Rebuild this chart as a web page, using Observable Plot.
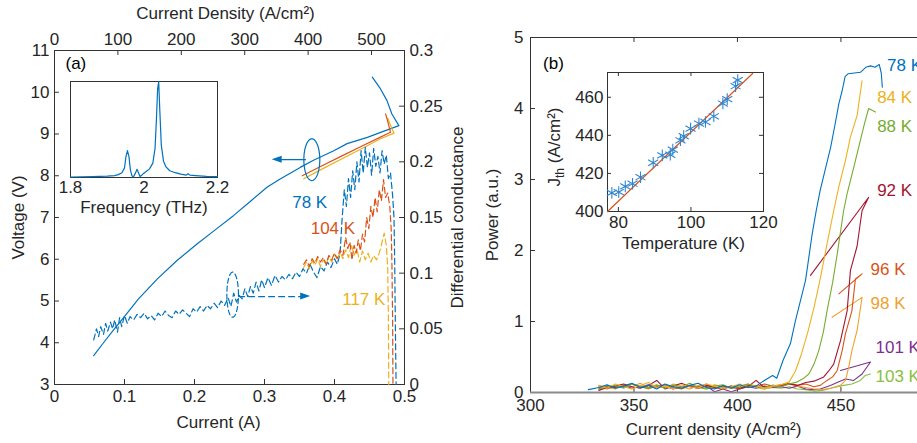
<!DOCTYPE html>
<html><head><meta charset="utf-8">
<script src="https://cdn.jsdelivr.net/npm/d3@7"></script>
<script src="https://cdn.jsdelivr.net/npm/@observablehq/plot@0.6"></script>
<style>
html,body{margin:0;padding:0;background:#fff;overflow:hidden;}
#root{position:relative;width:917px;height:443px;overflow:hidden;background:#fff;}
.panel{position:absolute;}
</style></head><body><div id="root">
<div class="panel" id="pa" style="left:0;top:0"></div>
<div class="panel" id="pb" style="left:470px;top:0"></div>
<div class="panel" id="ia" style="left:40px;top:60px"></div>
<div class="panel" id="ib" style="left:535px;top:60px"></div>
</div>
<script>
// ================= Panel (a) data =================
const aCurrentTicks = [0, 0.1, 0.2, 0.3, 0.4, 0.5];
const aVoltageTicks = [3, 4, 5, 6, 7, 8, 9, 10, 11];
const aCondTicks = [0, 0.05, 0.1, 0.15, 0.2, 0.25, 0.3];
const aDensityTicks = [0, 100, 200, 300, 400, 500];
const aDensityAtHalfAmp = 552; // A/cm² at 0.5 A (top axis)

// I-V curves (solid)
const iv78I = [0.056,0.07,0.085,0.099,0.12,0.147,0.175,0.204,0.23,0.256,0.28,0.304,0.323,0.351,0.37,0.399,0.418,0.447,0.466,0.492,0.482,0.475,0.465,0.454];
const iv78V = [3.69,4.0,4.32,4.61,5.05,5.53,5.97,6.37,6.71,7.05,7.39,7.73,7.93,8.2,8.37,8.6,8.77,8.92,9.04,9.2,9.48,9.8,10.1,10.36];
const iv104I = [0.354,0.38,0.41,0.44,0.465,0.48,0.476,0.473];
const iv104V = [8.0,8.22,8.47,8.72,8.92,9.04,9.3,9.48];
const iv117I = [0.356,0.38,0.41,0.44,0.465,0.485,0.479,0.476];
const iv117V = [7.93,8.14,8.4,8.66,8.88,9.02,9.25,9.38];

// differential conductance (dashed, right axis)
const dc78I = [0.056,0.060,0.063,0.066,0.070,0.073,0.076,0.080,0.083,0.086,0.090,0.093,0.096,0.100,0.104,0.108,0.113,0.118,0.123,0.128,0.133,0.138,0.143,0.148,0.153,0.158,0.163,0.168,0.173,0.178,0.183,0.188,0.193,0.198,0.203,0.208,0.213,0.218,0.223,0.228,0.233,0.238,0.243,0.248,0.252,0.256,0.260,0.264,0.268,0.272,0.276,0.280,0.284,0.288,0.292,0.296,0.300,0.305,0.310,0.315,0.320,0.325,0.330,0.335,0.340,0.345,0.350,0.355,0.360,0.365,0.370,0.375,0.380,0.385,0.390,0.395,0.400,0.404,0.408,0.411,0.414,0.417,0.420,0.423,0.426,0.429,0.432,0.435,0.438,0.441,0.444,0.447,0.450,0.453,0.456,0.459,0.462,0.465,0.468,0.471,0.474,0.477,0.480,0.483,0.485,0.486,0.487,0.488];
const dc78G = [0.040,0.050,0.043,0.052,0.045,0.055,0.048,0.056,0.050,0.058,0.047,0.060,0.052,0.062,0.055,0.061,0.058,0.063,0.060,0.064,0.059,0.062,0.058,0.064,0.061,0.066,0.062,0.060,0.066,0.063,0.067,0.064,0.061,0.068,0.065,0.070,0.066,0.071,0.068,0.073,0.069,0.075,0.071,0.078,0.070,0.082,0.074,0.080,0.077,0.086,0.079,0.088,0.082,0.092,0.084,0.094,0.087,0.096,0.089,0.098,0.092,0.097,0.094,0.099,0.095,0.101,0.097,0.104,0.100,0.108,0.101,0.096,0.106,0.102,0.110,0.105,0.113,0.108,0.118,0.150,0.175,0.160,0.185,0.168,0.192,0.175,0.200,0.182,0.210,0.190,0.213,0.195,0.208,0.188,0.212,0.196,0.205,0.190,0.210,0.198,0.206,0.185,0.190,0.170,0.150,0.110,0.050,0.000];
const dc104I = [0.356,0.360,0.364,0.368,0.372,0.376,0.380,0.384,0.388,0.392,0.396,0.400,0.404,0.408,0.412,0.416,0.419,0.422,0.425,0.428,0.431,0.434,0.437,0.440,0.443,0.446,0.449,0.452,0.455,0.458,0.461,0.464,0.467,0.470,0.473,0.476,0.479,0.481,0.482,0.483,0.4835];
const dc104G = [0.108,0.112,0.106,0.113,0.109,0.115,0.110,0.114,0.108,0.116,0.112,0.118,0.113,0.121,0.116,0.132,0.122,0.128,0.112,0.125,0.118,0.130,0.120,0.135,0.128,0.150,0.140,0.160,0.150,0.168,0.155,0.175,0.165,0.184,0.168,0.172,0.160,0.140,0.110,0.060,0.000];
const dc117I = [0.356,0.360,0.364,0.368,0.372,0.376,0.380,0.384,0.388,0.392,0.396,0.400,0.404,0.408,0.412,0.416,0.420,0.424,0.428,0.432,0.436,0.440,0.444,0.448,0.452,0.456,0.460,0.464,0.468,0.471,0.474,0.476,0.477,0.4775];
const dc117G = [0.105,0.110,0.104,0.111,0.107,0.113,0.106,0.112,0.108,0.115,0.110,0.117,0.112,0.119,0.113,0.121,0.114,0.126,0.116,0.122,0.110,0.120,0.112,0.118,0.110,0.116,0.112,0.118,0.128,0.136,0.125,0.105,0.060,0.000];

// inset (a): spectrum
const specF = [1.80,1.83,1.86,1.88,1.90,1.92,1.93,1.94,1.947,1.951,1.955,1.959,1.963,1.967,1.971,1.976,1.981,1.985,1.989,1.993,1.998,2.005,2.015,2.024,2.030,2.034,2.037,2.040,2.043,2.047,2.053,2.060,2.070,2.085,2.10,2.115,2.12,2.125,2.14,2.17,2.20];
const specA = [0.005,0.008,0.010,0.012,0.014,0.020,0.030,0.050,0.10,0.22,0.28,0.22,0.08,0.02,0.005,0.04,0.085,0.05,0.01,0.02,0.04,0.06,0.09,0.15,0.30,0.62,0.92,1.00,0.70,0.34,0.17,0.11,0.07,0.05,0.035,0.025,0.04,0.025,0.02,0.012,0.01];

// ================= Panel (b) data =================
const bDensityTicks = [300, 350, 400, 450];
const bPowerTicks = [0, 1, 2, 3, 4, 5];
const jGrid = [333,337,341,345,349,353,357,361,365,369,373,377,381,385,389,393,397,401,405,409,413,417];

const p78Base = [0.07,0.11,0.06,0.09,0.13,0.07,0.10,0.05,0.12,0.08,0.06,0.10,0.13,0.07,0.05,0.10,0.06,0.11,0.07,0.09,0.17,0.24];
const p78RiseJ = [419,422,425.6,428,432.9,436.1,438,440,442.5,445,447,449,450.6,452,453.5,456.5,459.4,462,464.3,466.5,468.5,469.5,470];
const p78RiseP = [0.2,0.45,0.69,1.01,1.58,2.23,2.55,2.85,3.15,3.45,3.75,4.07,4.25,4.45,4.49,4.50,4.51,4.58,4.60,4.58,4.62,4.5,4.3];

const p84Base = [0.09,0.06,0.12,0.08,0.05,0.10,0.14,0.07,0.09,0.05,0.11,0.08,0.06,0.12,0.09,0.05,0.08,0.12,0.07,0.10,0.06,0.09];
const p84RiseJ = [421,425,428,431,434,437,440,443,446.5,449,452.2,454.6,457.8,460.2];
const p84RiseP = [0.11,0.15,0.3,0.55,0.85,1.2,1.6,2.05,2.56,2.9,3.27,3.6,3.9,4.39];

const p88Base = [0.05,0.08,0.10,0.06,0.12,0.09,0.07,0.11,0.06,0.10,0.08,0.13,0.07,0.05,0.09,0.11,0.06,0.08,0.12,0.09,0.07,0.10];
const p88RiseJ = [421,425,429,432,434.5,437,439.3,441.5,443.3,446,448.2,451.3,453,456.2,459.4,461.5,463.4,466.7];
const p88RiseP = [0.08,0.12,0.15,0.2,0.26,0.4,0.59,0.85,1.15,1.55,1.95,2.56,2.8,3.17,3.55,3.8,4.0,3.95];

const p92Base = [0.03,0.07,0.09,0.12,0.08,0.06,0.10,0.17,0.05,0.09,0.13,0.08,0.06,0.10,0.07,0.05,0.09,0.06,0.08,0.17,0.07,0.10];
const p92RiseJ = [421,425,429,433,437,441.7,444,446.5,449.8,453,454.6,457.8,460.2,463.4,435.3];
const p92RiseP = [0.09,0.12,0.1,0.14,0.16,0.22,0.3,0.4,0.73,1.15,1.72,2.06,2.56,2.75,1.65];

const p96Base = [0.08,0.05,0.10,0.07,0.12,0.08,0.06,0.09,0.11,0.07,0.05,0.10,0.08,0.12,0.06,0.09,0.07,0.05,0.10,0.08,0.12,0.09];
const p96RiseJ = [421,425,429,433,437,440,443.3,446,448.2,450.6,452.2,455.3,457,460.2,449];
const p96RiseP = [0.11,0.13,0.1,0.12,0.08,0.1,0.17,0.22,0.31,0.59,0.83,1.15,1.6,1.67,1.39];

const p98Base = [0.10,0.07,0.05,0.11,0.08,0.13,0.07,0.09,0.06,0.12,0.08,0.05,0.10,0.07,0.11,0.08,0.06,0.09,0.12,0.07,0.05,0.08];
const p98RiseJ = [421,425,429,433,437,441,445,449.8,452.2,453.8,455.3,457.8,460.2,445.7];
const p98RiseP = [0.10,0.12,0.09,0.07,0.05,0.04,0.06,0.1,0.17,0.36,0.59,0.87,1.34,1.06];

const p101Base = [0.05,0.09,0.07,0.10,0.06,0.08,0.11,0.07,0.09,0.05,0.08,0.10,0.06,0.09,0.01,0.05,0.01,0.05,0.08,0.06,0.09,0.07];
const p101RiseJ = [421,425,429,433,437,440,444.9,449,452.2,456.2,460.2,464.3,449.8];
const p101RiseP = [0.08,0.06,0.09,0.05,0.04,0.05,0.1,0.15,0.19,0.17,0.26,0.43,0.31];

const p103Base = [0.07,0.10,0.06,0.09,0.12,0.08,0.05,0.10,0.07,0.11,0.06,0.09,0.08,0.05,0.10,0.07,0.09,0.06,0.11,0.08,0.05,0.07];
const p103RiseJ = [421,425,429,433,437,441,446.5,451.3,455.3,459.4,461.8,464.3];
const p103RiseP = [0.06,0.08,0.05,0.04,0.02,0.03,0.07,0.1,0.12,0.17,0.24,0.26];

// inset (b): threshold current density vs temperature
const jthT = [78.2,80.1,81.9,83.9,86.1,89.6,92.1,94.3,95.0,97.1,98.0,99.9,102.2,104.0,106.3,108.8,110.0,112.3,112.9];
const jthJ = [409.8,410.2,413.2,414.6,418.0,425.6,429.5,429.8,432.5,437.4,439.6,443.5,446.2,447.0,450.0,456.7,459.0,465.8,469.0];
const fitT = [77, 117];
const fitJ = [400, 472.5];
const insetTTicks = [80, 100, 120];
const insetJTicks = [400, 420, 440, 460];
const insetFTicks = [1.8, 2, 2.2];

// ================= helpers =================
const FONT = '"Liberation Sans", Arial, Helvetica, sans-serif';
const FS = 17;
const TXT = "#262626", AX = "#333333";
const C = {blue:"#0072BD", orange:"#D95319", yellow:"#EDB120", green:"#77AC30", red:"#A2142F", yo:"#F0A030", purple:"#7E2F8E", lgreen:"#88BF3E", star:"#2F86CF"};
const series = (xs, ys) => xs.map((x, i) => ({x, y: ys[i]}));
const style = {fontFamily: FONT, fontSize: FS + "px", color: TXT, background: "transparent", overflow: "visible"};
const g2v = g => 3 + g * 8 / 0.3;              // right axis -> left axis units
const d2i = d => d * 0.5 / aDensityAtHalfAmp;  // top axis -> bottom axis units
const ellipse = (cx, cy, rx, ry) => d3.range(0, 361, 5).map(a => ({x: cx + rx * Math.cos(a * Math.PI / 180), y: cy + ry * Math.sin(a * Math.PI / 180)}));
const label = (t, o) => Plot.text([t], {text: d => d, fontSize: FS, fill: TXT, textAnchor: "middle", lineAnchor: "middle", ...o});

// ================= Panel (a) =================
const pa = Plot.plot({
  width: 470, height: 443, marginLeft: 54, marginRight: 66, marginTop: 50, marginBottom: 59,
  x: {domain: [0, 0.5]}, y: {domain: [3, 11]}, style,
  marks: [
    Plot.frame({stroke: AX}),
    Plot.ruleX(aCurrentTicks, {x: d => d, y1: 3, y2: 3.12, stroke: AX}),
    Plot.ruleX(aDensityTicks.map(d2i), {x: d => d, y1: 11, y2: 10.88, stroke: AX}),
    Plot.ruleY(aVoltageTicks, {y: d => d, x1: 0, x2: 0.007, stroke: AX}),
    Plot.ruleY(aCondTicks.map(g2v), {y: d => d, x1: 0.5, x2: 0.493, stroke: AX}),
    Plot.axisX({anchor: "bottom", ticks: aCurrentTicks, tickSize: 0, tickPadding: 5, label: null, tickFormat: d => String(d)}),
    Plot.axisX({anchor: "top", ticks: aDensityTicks.map(d2i), tickSize: 0, tickPadding: 6, label: null, tickFormat: d => String(Math.round(d * aDensityAtHalfAmp / 0.5))}),
    Plot.axisY({anchor: "left", ticks: aVoltageTicks, tickSize: 0, tickPadding: 5, label: null}),
    Plot.axisY({anchor: "right", ticks: aCondTicks.map(g2v), tickSize: 0, tickPadding: 5, label: null, tickFormat: v => String(+((v - 3) * 0.3 / 8).toFixed(2))}),
    // curves
    Plot.line(series(iv78I, iv78V), {x: "x", y: "y", stroke: C.blue, strokeWidth: 1.2}),
    Plot.line(series(iv117I, iv117V), {x: "x", y: "y", stroke: C.yellow, strokeWidth: 1.2}),
    Plot.line(series(iv104I, iv104V), {x: "x", y: "y", stroke: C.orange, strokeWidth: 1.2}),
    Plot.line(series(dc78I, dc78G.map(g2v)), {x: "x", y: "y", stroke: C.blue, strokeWidth: 1.2, strokeDasharray: "6,3.5"}),
    Plot.line(series(dc117I, dc117G.map(g2v)), {x: "x", y: "y", stroke: C.yellow, strokeWidth: 1.2, strokeDasharray: "6,3.5"}),
    Plot.line(series(dc104I, dc104G.map(g2v)), {x: "x", y: "y", stroke: C.orange, strokeWidth: 1.2, strokeDasharray: "6,3.5"}),
    // annotations
    Plot.line(ellipse(0.3676, 8.385, 0.0114, 0.50), {x: "x", y: "y", stroke: C.blue, strokeWidth: 1.2}),
    Plot.line([{x: 0.3586, y: 8.385}, {x: 0.322, y: 8.385}], {x: "x", y: "y", stroke: C.blue, strokeWidth: 1.2}),
    Plot.areaY([{x: 0.311, y1: 8.385, y2: 8.385}, {x: 0.3253, y1: 8.30, y2: 8.47}], {x: "x", y1: "y1", y2: "y2", fill: C.blue}),
    Plot.line(ellipse(0.2545, g2v(0.0807), 0.0083, 0.54), {x: "x", y: "y", stroke: C.blue, strokeWidth: 1.2, strokeDasharray: "5,3"}),
    Plot.line([{x: 0.263, y: g2v(0.079)}, {x: 0.354, y: g2v(0.079)}], {x: "x", y: "y", stroke: C.blue, strokeWidth: 1.2, strokeDasharray: "6,4"}),
    Plot.areaY([{x: 0.3517, y1: g2v(0.079) - 0.085, y2: g2v(0.079) + 0.085}, {x: 0.366, y1: g2v(0.079), y2: g2v(0.079)}], {x: "x", y1: "y1", y2: "y2", fill: C.blue}),
    // curve labels
    Plot.text(["78 K"], {text: d => d, x: 0.3396, y: 7.37, textAnchor: "start", fill: C.blue, fontSize: FS}),
    Plot.text(["104 K"], {text: d => d, x: 0.366, y: 6.73, textAnchor: "start", fill: C.orange, fontSize: FS}),
    Plot.text(["117 K"], {text: d => d, x: 0.411, y: 5.03, textAnchor: "start", fill: C.yellow, fontSize: FS}),
    Plot.text(["(a)"], {text: d => d, x: 0.0157, y: 10.68, textAnchor: "start", fill: "#000", fontSize: FS}),
    // axis titles
    label("Current (A)", {frameAnchor: "bottom", dy: 38, dx: -11}),
    label("Current Density (A/cm²)", {frameAnchor: "top", dy: -37, dx: -4}),
    label("Voltage (V)", {frameAnchor: "left", dx: -36, rotate: -90}),
    label("Differential conductance", {frameAnchor: "right", dx: 53, rotate: -90})
  ]
});
document.getElementById("pa").append(pa);

// ================= Inset (a) =================
const ia = Plot.plot({
  width: 200, height: 160, marginLeft: 30, marginRight: 23, marginTop: 21, marginBottom: 43,
  x: {domain: [1.8, 2.2]}, y: {domain: [0, 1], axis: null}, style,
  marks: [
    Plot.frame({fill: "white", stroke: AX}),
    Plot.line(series(specF, specA), {x: "x", y: "y", stroke: C.blue, strokeWidth: 1.2}),
    Plot.axisX({ticks: insetFTicks, tickSize: 0, tickPadding: 3, label: null, tickFormat: d => String(d)}),
    label("Frequency (THz)", {frameAnchor: "bottom", dy: 30})
  ]
});
document.getElementById("ia").append(ia);

// ================= Panel (b) =================
const curvesB = [
  {J: [...jGrid, ...p103RiseJ], P: [...p103Base, ...p103RiseP], c: C.lgreen},
  {J: [...jGrid, ...p101RiseJ], P: [...p101Base, ...p101RiseP], c: C.purple},
  {J: [...jGrid, ...p98RiseJ], P: [...p98Base, ...p98RiseP], c: C.yo},
  {J: [...jGrid, ...p96RiseJ], P: [...p96Base, ...p96RiseP], c: C.orange},
  {J: [...jGrid, ...p92RiseJ], P: [...p92Base, ...p92RiseP], c: C.red},
  {J: [...jGrid, ...p88RiseJ], P: [...p88Base, ...p88RiseP], c: C.green},
  {J: [...jGrid, ...p84RiseJ], P: [...p84Base, ...p84RiseP], c: C.yellow},
  {J: [328, ...jGrid, ...p78RiseJ], P: [0.04, ...p78Base, ...p78RiseP], c: C.blue}
];
const tlab = (t, x, y, c) => Plot.text([t], {text: d => d, x, y, textAnchor: "start", fill: c, fontSize: FS});
const pb = Plot.plot({
  width: 447, height: 443, marginLeft: 60, marginRight: 0, marginTop: 37, marginBottom: 51,
  x: {domain: [300, 487]}, y: {domain: [0, 5]}, style,
  marks: [
    Plot.ruleY([5], {stroke: AX}),
    Plot.ruleX([300], {stroke: AX}),
    Plot.ruleX([350, 400, 450], {x: d => d, y1: 5, y2: 4.93, stroke: AX}),
    Plot.ruleX([350, 400, 450], {x: d => d, y1: 0, y2: 0.07, stroke: AX}),
    Plot.ruleY([1, 2, 3, 4], {y: d => d, x1: 300, x2: 302.4, stroke: AX}),
    Plot.axisX({ticks: bDensityTicks, tickSize: 0, tickPadding: 6, label: null, tickFormat: d => String(d)}),
    Plot.axisY({ticks: bPowerTicks, tickSize: 0, tickPadding: 7, label: null, tickFormat: d => String(d)}),
    ...curvesB.map(s => Plot.line(series(s.J, s.P), {x: "x", y: "y", stroke: s.c, strokeWidth: 1.1})),
    Plot.ruleY([0], {stroke: "#8a8a8a", strokeWidth: 2}),
    tlab("78 K", 472.3, 4.61, C.blue),
    tlab("84 K", 467.5, 4.16, C.yellow),
    tlab("88 K", 467.5, 3.75, C.green),
    tlab("92 K", 467.5, 2.85, C.red),
    tlab("96 K", 464.3, 1.73, C.orange),
    tlab("98 K", 464.3, 1.25, C.yo),
    tlab("101 K", 466.7, 0.63, C.purple),
    tlab("103 K", 466.7, 0.23, C.lgreen),
    Plot.text(["(b)"], {text: d => d, x: 306.1, y: 4.63, textAnchor: "start", fill: "#000", fontSize: FS}),
    label("Power (a.u.)", {frameAnchor: "left", dx: -38, rotate: -90}),
    label("Current density (A/cm²)", {frameAnchor: "bottom", dy: 37, dx: -10.5})
  ]
});
document.getElementById("pb").append(pb);

// ================= Inset (b) =================
const ib = Plot.plot({
  width: 240, height: 200, marginLeft: 72, marginRight: 12, marginTop: 12, marginBottom: 49,
  x: {domain: [77, 120]}, y: {domain: [400, 473]}, style,
  marks: [
    Plot.frame({fill: "white", stroke: AX}),
    Plot.ruleX(insetTTicks, {x: d => d, y1: 400, y2: 402.1, stroke: AX}),
    Plot.ruleX(insetTTicks, {x: d => d, y1: 473, y2: 470.9, stroke: AX}),
    Plot.ruleY(insetJTicks, {y: d => d, x1: 77, x2: 78.1, stroke: AX}),
    Plot.ruleY(insetJTicks, {y: d => d, x1: 120, x2: 118.9, stroke: AX}),
    Plot.line(series(fitT, fitJ), {x: "x", y: "y", stroke: C.orange, strokeWidth: 1.2}),
    Plot.dot(series(jthT, jthJ), {x: "x", y: "y", symbol: "asterisk", r: 5.5, stroke: C.star, strokeWidth: 1.1}),
    Plot.axisX({ticks: insetTTicks, tickSize: 0, tickPadding: 4, label: null}),
    Plot.axisY({ticks: insetJTicks, tickSize: 0, tickPadding: 4, label: null}),
    label("Temperature (K)", {frameAnchor: "bottom", dy: 32, dx: -2}),
    Plot.text(["J"], {text: d => d, frameAnchor: "left", dx: -53, dy: 5, rotate: -90, textAnchor: "middle", lineAnchor: "middle", fontSize: FS, fill: TXT, className: "jth"})
  ]
});
document.getElementById("ib").append(ib);
// subscript for J_th
d3.select(ib).selectAll(".jth text").each(function() {
  const t = d3.select(this);
  t.text(null);
  t.append("tspan").text("J");
  t.append("tspan").attr("dy", 4).attr("font-size", 12).text("th");
  t.append("tspan").attr("dy", -4).text(" (A/cm²)");
});
</script>
</body></html>
